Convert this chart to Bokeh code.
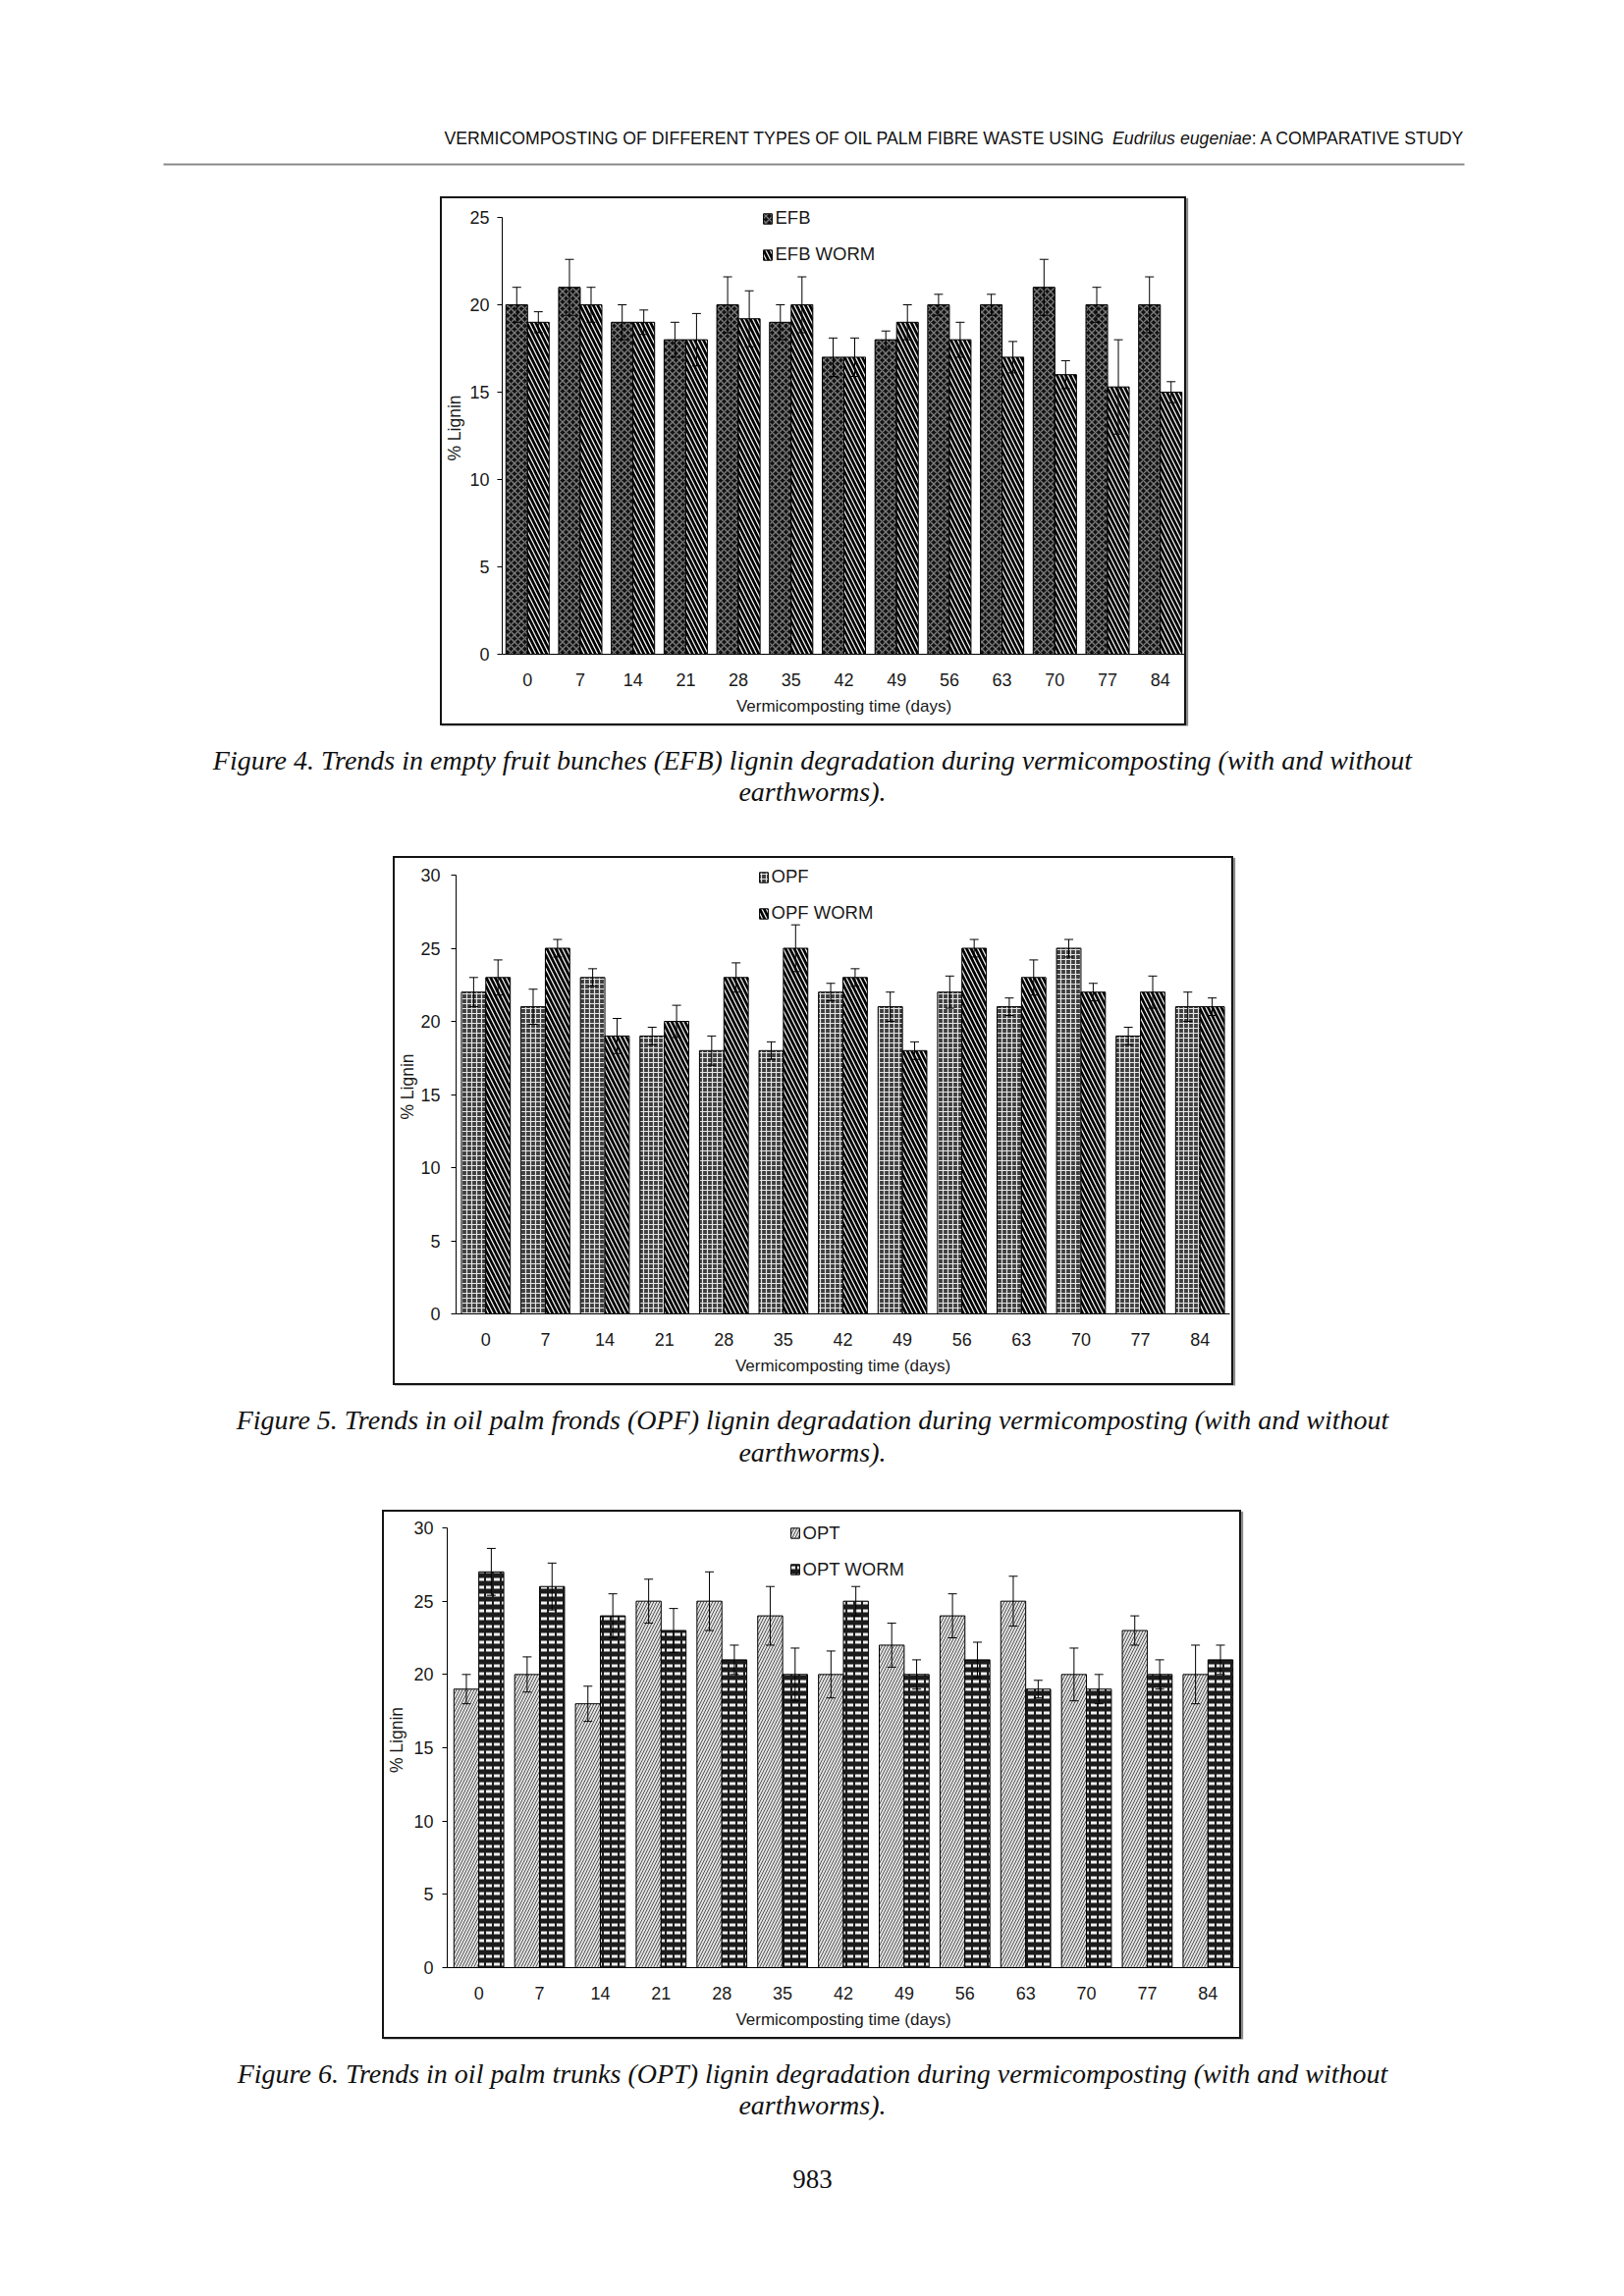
import numpy as np
from bokeh.plotting import figure
from bokeh.models import (Range1d, FixedTicker, ColumnDataSource, Whisker, TeeHead,
                          Legend, LegendItem, Spacer)
from bokeh.layouts import column, row
from bokeh.core.properties import value
from bokeh.embed import file_html
from bokeh.resources import INLINE

# ---------------- data ----------------
DAYS = ["0", "7", "14", "21", "28", "35", "42", "49", "56", "63", "70", "77", "84"]

EFB = [20, 21, 19, 18, 20, 19, 17, 18, 20, 20, 21, 20, 20]
EFB_ERR = [1.0, 1.6, 1.0, 1.0, 1.6, 1.0, 1.1, 0.5, 0.6, 0.6, 1.6, 1.0, 1.6]
EFB_WORM = [19, 20, 19, 18, 19.2, 20, 17, 19, 18, 17, 16, 15.3, 15]
EFB_WORM_ERR = [0.6, 1.0, 0.7, 1.5, 1.6, 1.6, 1.1, 1.0, 1.0, 0.9, 0.8, 2.7, 0.6]

OPF = [22, 21, 23, 19, 18, 18, 22, 21, 22, 21, 25, 19, 21]
OPF_ERR = [1.0, 1.2, 0.6, 0.6, 1.0, 0.6, 0.6, 1.0, 1.1, 0.6, 0.6, 0.6, 1.0]
OPF_WORM = [23, 25, 19, 20, 23, 25, 23, 18, 25, 23, 22, 22, 21]
OPF_WORM_ERR = [1.2, 0.6, 1.2, 1.1, 1.0, 1.6, 0.6, 0.6, 0.6, 1.2, 0.6, 1.1, 0.6]

OPT = [19, 20, 18, 25, 25, 24, 20, 22, 24, 25, 20, 23, 20]
OPT_ERR = [1.0, 1.2, 1.2, 1.5, 2.0, 2.0, 1.6, 1.5, 1.5, 1.7, 1.8, 1.0, 2.0]
OPT_WORM = [27, 26, 24, 23, 21, 20, 25, 20, 21, 19, 19, 20, 21]
OPT_WORM_ERR = [1.6, 1.6, 1.5, 1.5, 1.0, 1.8, 1.0, 1.0, 1.2, 0.6, 1.0, 1.0, 1.0]

Y_TICKS_25 = [0, 5, 10, 15, 20, 25]
Y_TICKS_30 = [0, 5, 10, 15, 20, 25, 30]

X_TITLE = "Vermicomposting time (days)"
Y_TITLE = "% Lignin"

HEADER_1 = "VERMICOMPOSTING OF DIFFERENT TYPES OF OIL PALM FIBRE WASTE USING"
HEADER_2 = "Eudrilus eugeniae"
HEADER_3 = ": A COMPARATIVE STUDY"

CAP4 = ["Figure 4. Trends in empty fruit bunches (EFB) lignin degradation during vermicomposting (with and without",
        "earthworms)."]
CAP5 = ["Figure 5. Trends in oil palm fronds (OPF) lignin degradation during vermicomposting (with and without",
        "earthworms)."]
CAP6 = ["Figure 6. Trends in oil palm trunks (OPT) lignin degradation during vermicomposting (with and without",
        "earthworms)."]
PAGE_NO = "983"

# ---------------- styles ----------------
SANS = "Liberation Sans"
SERIF = "Liberation Serif"
PAGE_W = 1638
TEXT_C = "#1a1a1a"

STYLE_EFB = dict(fill_color="#121212", hatch_pattern="diagonal_cross", hatch_color="#7c7c7c",
                 hatch_weight=1.4, hatch_scale=7)
STYLE_WORM_STRIPE = dict(fill_color="#000000", hatch_pattern="left_diagonal_line", hatch_color="#eeeeee",
                         hatch_weight=1.3, hatch_scale=9)
STYLE_OPF = dict(fill_color="#3e3e3e", hatch_pattern="cross", hatch_color="#e4e4e4",
                 hatch_weight=1.2, hatch_scale=5)
STYLE_OPT = dict(fill_color="#e2e2e2", hatch_pattern="right_diagonal_line", hatch_color="#555555",
                 hatch_weight=1.0, hatch_scale=6)
STYLE_OPT_WORM = dict(fill_color="#1c1c1c", hatch_pattern="horizontal_dash", hatch_color="#f0f0f0",
                      hatch_weight=3.0, hatch_scale=8)

CANVAS_H = 539        # 543 px frame minus 2 px css border on each side
Y0_CANVAS = 464       # pixel row of y = 0 inside the canvas
HEADROOM = 16         # px of frame kept above the last y tick (room for the legend)


def make_chart(a, a_err, b, b_err, labels, style_a, style_b, ymax, yticks,
               width, left, right, top, xpad, leg_xy, ystand, ylab_stand):
    x = np.arange(len(DAYS))
    a = np.array(a, dtype=float)
    b = np.array(b, dtype=float)
    ae = np.array(a_err, dtype=float)
    be = np.array(b_err, dtype=float)
    bw = 0.41
    src = ColumnDataSource(dict(
        xa=x - bw / 2, xb=x + bw / 2, a=a, b=b,
        a_hi=a + ae, a_lo=a - ae, b_hi=b + be, b_lo=b - be))

    # y range is extended a little above the last tick (axis line is bounded)
    top_frame = top - (HEADROOM - 12)
    frame_h = Y0_CANVAS - top_frame
    y_end = ymax * frame_h / (frame_h - float(HEADROOM))

    p = figure(width=width, height=CANVAS_H, output_backend="svg", toolbar_location=None,
               x_range=Range1d(-xpad, len(DAYS) - 1 + xpad), y_range=Range1d(0, y_end),
               min_border_left=left, min_border_right=right, min_border_top=top_frame,
               min_border_bottom=CANVAS_H - Y0_CANVAS,
               styles={"border": "2px solid #151515", "box-shadow": "2px 2px 1px #8a8a8a"})
    p.grid.visible = False
    p.outline_line_color = None
    p.background_fill_color = "white"
    p.border_fill_color = "white"

    ra = p.vbar(x="xa", top="a", width=bw, source=src, line_color="black", line_width=1, **style_a)
    rb = p.vbar(x="xb", top="b", width=bw, source=src, line_color="black", line_width=1, **style_b)

    for base, up, lo in (("xa", "a_hi", "a_lo"), ("xb", "b_hi", "b_lo")):
        w = Whisker(base=base, upper=up, lower=lo, source=src, line_color="black", line_width=1,
                    upper_head=TeeHead(size=9, line_color="black", line_width=1),
                    lower_head=TeeHead(size=9, line_color="black", line_width=1),
                    level="overlay")
        p.add_layout(w)

    xa = p.xaxis[0]
    xa.ticker = FixedTicker(ticks=list(range(len(DAYS))))
    xa.major_label_overrides = {i: d for i, d in enumerate(DAYS)}
    xa.major_tick_out = 0
    xa.major_tick_in = 0
    xa.minor_tick_out = 0
    xa.minor_tick_in = 0
    xa.major_label_standoff = 19
    xa.axis_label = X_TITLE
    xa.axis_label_standoff = 8
    xa.axis_label_text_font_style = "normal"
    xa.axis_label_text_font = SANS
    xa.axis_label_text_font_size = "17px"
    xa.axis_label_text_color = TEXT_C
    xa.major_label_text_font = SANS
    xa.major_label_text_font_size = "18px"
    xa.major_label_text_color = TEXT_C
    xa.axis_line_color = "black"

    ya = p.yaxis[0]
    ya.ticker = FixedTicker(ticks=yticks)
    ya.bounds = (0, ymax)
    ya.major_tick_out = 5
    ya.major_tick_in = 0
    ya.minor_tick_out = 0
    ya.minor_tick_in = 0
    ya.major_label_standoff = int(ystand)
    ya.axis_label = Y_TITLE
    ya.axis_label_standoff = int(ylab_stand)
    ya.axis_label_text_font_style = "normal"
    ya.axis_label_text_font = SANS
    ya.axis_label_text_font_size = "17.5px"
    ya.axis_label_text_color = TEXT_C
    ya.major_label_text_font = SANS
    ya.major_label_text_font_size = "18px"
    ya.major_label_text_color = TEXT_C
    ya.axis_line_color = "black"

    leg = Legend(items=[LegendItem(label=labels[0], renderers=[ra]),
                        LegendItem(label=labels[1], renderers=[rb])],
                 location=leg_xy, orientation="vertical",
                 background_fill_alpha=0, border_line_alpha=0, padding=0, margin=0,
                 spacing=15, glyph_width=11, glyph_height=13, label_standoff=3,
                 label_height=20,
                 label_text_font=SANS, label_text_font_size="18.5px",
                 label_text_color=TEXT_C)
    p.add_layout(leg)
    return p


def text_fig(h):
    p = figure(width=PAGE_W, height=h, output_backend="svg", toolbar_location=None,
               x_range=Range1d(0, PAGE_W), y_range=Range1d(h, 0),
               x_axis_type=None, y_axis_type=None, min_border=0)
    p.grid.visible = False
    p.outline_line_color = None
    return p


def caption(h, lines, y1, y2, extra=None):
    p = text_fig(h)
    p.text(x=[827, 827], y=[y1, y2], text=lines, text_font=value(SERIF),
           text_font_style="italic", text_font_size="28px", text_align="center",
           text_baseline="middle", text_color="#111111")
    if extra is not None:
        p.text(x=[827], y=[extra[1]], text=[extra[0]], text_font=value(SERIF),
               text_font_size="27px", text_align="center", text_baseline="middle",
               text_color="#111111")
    return p


# header (Liberation Sans is metric compatible with Arial: widths in em)
HFS = 17.7
W1 = 38.45   # "VERMICOMPOSTING ... USING " in em
W2 = 8.00    # "Eudrilus eugeniae" in em
hx1 = 452
hx2 = hx1 + W1 * HFS
hx3 = hx2 + W2 * HFS
hdr = text_fig(200)
hdr.text(x=[hx1], y=[140], text=[HEADER_1], text_font=value(SANS), text_font_size=f"{HFS}px",
         text_align="left", text_baseline="middle", text_color="#111111")
hdr.text(x=[hx2], y=[140], text=[HEADER_2], text_font=value(SANS), text_font_style="italic",
         text_font_size=f"{HFS}px", text_align="left", text_baseline="middle", text_color="#111111")
hdr.text(x=[hx3], y=[140], text=[HEADER_3], text_font=value(SANS), text_font_size=f"{HFS}px",
         text_align="left", text_baseline="middle", text_color="#111111")
hdr.segment(x0=[166], y0=[167], x1=[1491], y1=[167], line_color="#8a8a8a", line_width=2)

c1 = make_chart(EFB, EFB_ERR, EFB_WORM, EFB_WORM_ERR, ["EFB", "EFB WORM"],
                STYLE_EFB, STYLE_WORM_STRIPE, 25, Y_TICKS_25,
                width=760, left=57, right=3, top=7, xpad=0.48, leg_xy=(264.5, 396),
                ystand=8, ylab_stand=2)
c2 = make_chart(OPF, OPF_ERR, OPF_WORM, OPF_WORM_ERR, ["OPF", "OPF WORM"],
                STYLE_OPF, STYLE_WORM_STRIPE, 30, Y_TICKS_30,
                width=856, left=62, right=6, top=5, xpad=0.5, leg_xy=(307.5, 397),
                ystand=11, ylab_stand=0)
c3 = make_chart(OPT, OPT_ERR, OPT_WORM, OPT_WORM_ERR, ["OPT", "OPT WORM"],
                STYLE_OPT, STYLE_OPT_WORM, 30, Y_TICKS_30,
                width=875, left=61, right=4, top=4, xpad=0.52, leg_xy=(348.5, 394.5),
                ystand=9, ylab_stand=4)

cap4 = caption(133, CAP4, 34.5, 67)
cap5 = caption(127, CAP5, 35, 68)
cap6 = caption(234, CAP6, 35, 67, extra=(PAGE_NO, 142))

page = column(
    hdr,
    row(Spacer(width=448, height=10), c1),
    cap4,
    row(Spacer(width=400, height=10), c2),
    cap5,
    row(Spacer(width=389, height=10), c3),
    cap6,
)

open("out.html", "w").write(file_html(page, INLINE))
